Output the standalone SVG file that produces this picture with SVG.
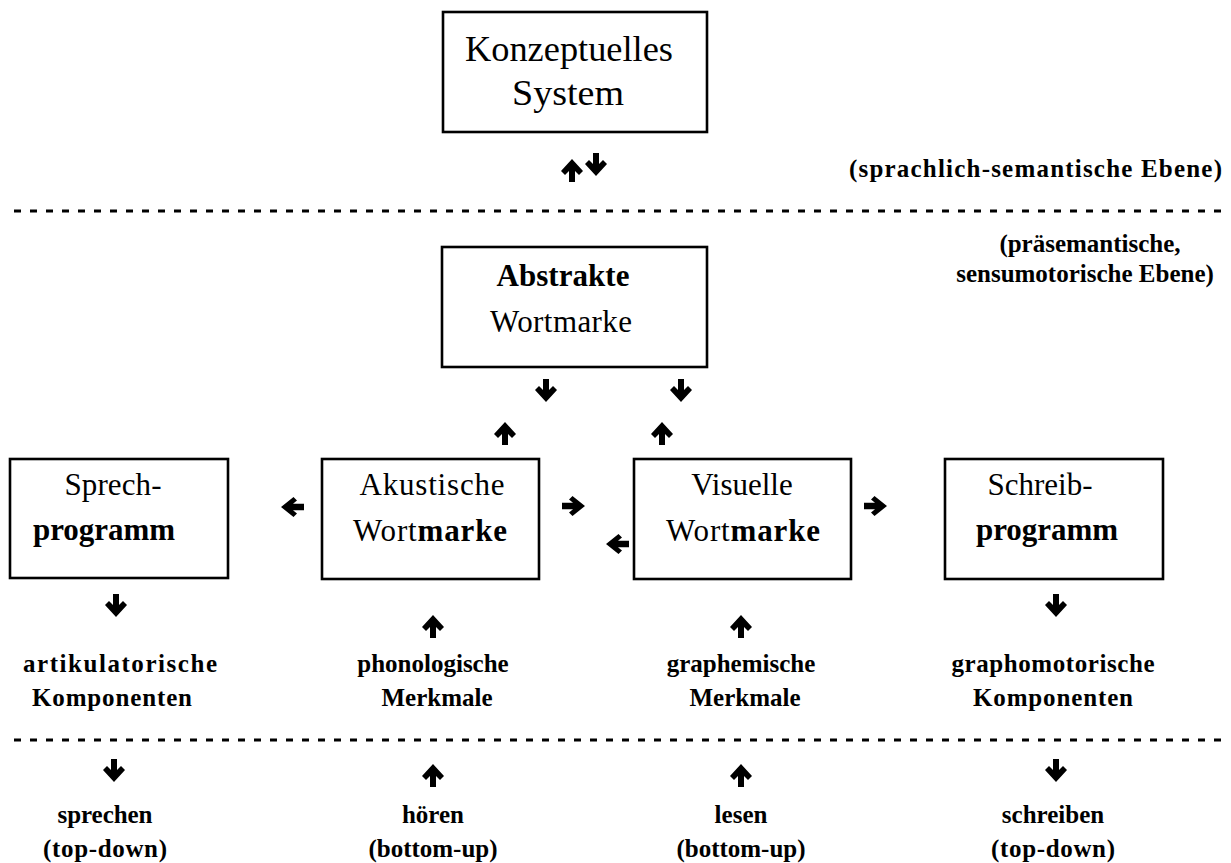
<svg xmlns="http://www.w3.org/2000/svg" xmlns:xlink="http://www.w3.org/1999/xlink" width="1231" height="863" viewBox="0 0 1231 863">
  <defs>
    <style>
      .box { fill: #ffffff; stroke: #000000; stroke-width: 2.6; }
      text { font-family: 'Liberation Serif', 'Times New Roman', Times, serif; fill: #000000; }
      .big { font-size: 36px; }
      .mid { font-size: 31px; }
      .lbl { font-size: 25px; font-weight: bold; }
      .b { font-weight: bold; }
      .dash { stroke: #000000; stroke-width: 3; stroke-dasharray: 7 9; fill: none; }
      .arr { fill: #000000; }
    </style>
    <!-- heavy block arrows, drawn around the origin -->
    <path id="down" d="M-3,-12 H3 V-1 L7,-5 L11,-1 L0,11 L-11,-1 L-7,-5 L-3,-1 Z"/>
    <path id="up" d="M-3,12 H3 V1 L7,5 L11,1 L0,-11 L-11,1 L-7,5 L-3,1 Z"/>
    <path id="right" d="M-12,-3.2 H-1 L-5,-6.5 L-1.5,-10 L11,0 L-1.5,10 L-5,6.5 L-1,3.2 H-12 Z"/>
    <path id="left" d="M12,-3.2 H1 L5,-6.5 L1.5,-10 L-11,0 L1.5,10 L5,6.5 L1,3.2 H12 Z"/>
  </defs>

  <rect width="1231" height="863" fill="#ffffff"/>

  <!-- level separators -->
  <g id="separators">
    <line class="dash" x1="14" y1="211" x2="1224" y2="211"/>
    <line class="dash" x1="14" y1="740" x2="1224" y2="740"/>
  </g>

  <!-- nodes -->
  <g id="konzeptuelles-system">
    <rect class="box" x="443" y="12" width="264" height="120"/>
    <text class="big" x="569" y="61" text-anchor="middle" textLength="208" lengthAdjust="spacingAndGlyphs">Konzeptuelles</text>
    <text class="big" x="568" y="105" text-anchor="middle" textLength="112" lengthAdjust="spacingAndGlyphs">System</text>
  </g>

  <g id="abstrakte-wortmarke">
    <rect class="box" x="442" y="247" width="265" height="120"/>
    <text class="mid b" x="563" y="286" text-anchor="middle" textLength="133">Abstrakte</text>
    <text class="mid" x="561" y="332" text-anchor="middle" textLength="142">Wortmarke</text>
  </g>

  <g id="sprechprogramm">
    <rect class="box" x="10" y="459" width="218" height="119"/>
    <text class="mid" x="113" y="495" text-anchor="middle" textLength="97">Sprech-</text>
    <text class="mid b" x="104" y="540" text-anchor="middle" textLength="142">programm</text>
  </g>

  <g id="akustische-wortmarke">
    <rect class="box" x="322" y="459" width="217" height="120"/>
    <text class="mid" x="432" y="495" text-anchor="middle" textLength="145">Akustische</text>
    <text class="mid" x="430" y="541" text-anchor="middle" textLength="154">Wort<tspan class="b">marke</tspan></text>
  </g>

  <g id="visuelle-wortmarke">
    <rect class="box" x="634" y="459" width="217" height="120"/>
    <text class="mid" x="742" y="495" text-anchor="middle">Visuelle</text>
    <text class="mid" x="743" y="541" text-anchor="middle" textLength="154">Wort<tspan class="b">marke</tspan></text>
  </g>

  <g id="schreibprogramm">
    <rect class="box" x="945" y="459" width="218" height="120"/>
    <text class="mid" x="1040" y="495" text-anchor="middle">Schreib-</text>
    <text class="mid b" x="1047" y="540" text-anchor="middle" textLength="142">programm</text>
  </g>

  <!-- level captions -->
  <g id="level-labels">
    <text class="lbl" x="1222" y="177" text-anchor="end" textLength="373">(sprachlich-semantische Ebene)</text>
    <text class="lbl" x="1090" y="252" text-anchor="middle">(präsemantische,</text>
    <text class="lbl" x="1085" y="282" text-anchor="middle">sensumotorische Ebene)</text>
  </g>

  <!-- feature labels -->
  <g id="feature-labels">
    <text class="lbl" x="120" y="672" text-anchor="middle" textLength="194">artikulatorische</text>
    <text class="lbl" x="112" y="706" text-anchor="middle" textLength="160">Komponenten</text>
    <text class="lbl" x="433" y="672" text-anchor="middle">phonologische</text>
    <text class="lbl" x="437" y="706" text-anchor="middle">Merkmale</text>
    <text class="lbl" x="741" y="672" text-anchor="middle">graphemische</text>
    <text class="lbl" x="745" y="706" text-anchor="middle">Merkmale</text>
    <text class="lbl" x="1053" y="672" text-anchor="middle" textLength="203">graphomotorische</text>
    <text class="lbl" x="1053" y="706" text-anchor="middle" textLength="160">Komponenten</text>
  </g>

  <!-- activity labels -->
  <g id="activity-labels">
    <text class="lbl" x="105" y="823" text-anchor="middle" textLength="95">sprechen</text>
    <text class="lbl" x="105" y="857" text-anchor="middle" textLength="124">(top-down)</text>
    <text class="lbl" x="433" y="823" text-anchor="middle">hören</text>
    <text class="lbl" x="433" y="857" text-anchor="middle">(bottom-up)</text>
    <text class="lbl" x="741" y="823" text-anchor="middle">lesen</text>
    <text class="lbl" x="741" y="857" text-anchor="middle">(bottom-up)</text>
    <text class="lbl" x="1053" y="823" text-anchor="middle">schreiben</text>
    <text class="lbl" x="1053" y="857" text-anchor="middle" textLength="124">(top-down)</text>
  </g>

  <!-- connectors -->
  <g id="connectors" class="arr">
    <use xlink:href="#up" x="572" y="170"/>
    <use xlink:href="#down" x="596" y="165"/>

    <use xlink:href="#down" x="546" y="391"/>
    <use xlink:href="#down" x="681" y="391"/>
    <use xlink:href="#up" x="505" y="433"/>
    <use xlink:href="#up" x="662" y="433"/>

    <use xlink:href="#left" x="292" y="507"/>
    <use xlink:href="#right" x="574" y="506"/>
    <use xlink:href="#left" x="617" y="544"/>
    <use xlink:href="#right" x="876" y="506"/>

    <use xlink:href="#down" x="116" y="606"/>
    <use xlink:href="#up" x="433" y="626"/>
    <use xlink:href="#up" x="741" y="626"/>
    <use xlink:href="#down" x="1056" y="606"/>

    <use xlink:href="#down" x="114" y="771"/>
    <use xlink:href="#up" x="433" y="775"/>
    <use xlink:href="#up" x="741" y="775"/>
    <use xlink:href="#down" x="1056" y="771"/>
  </g>
</svg>
